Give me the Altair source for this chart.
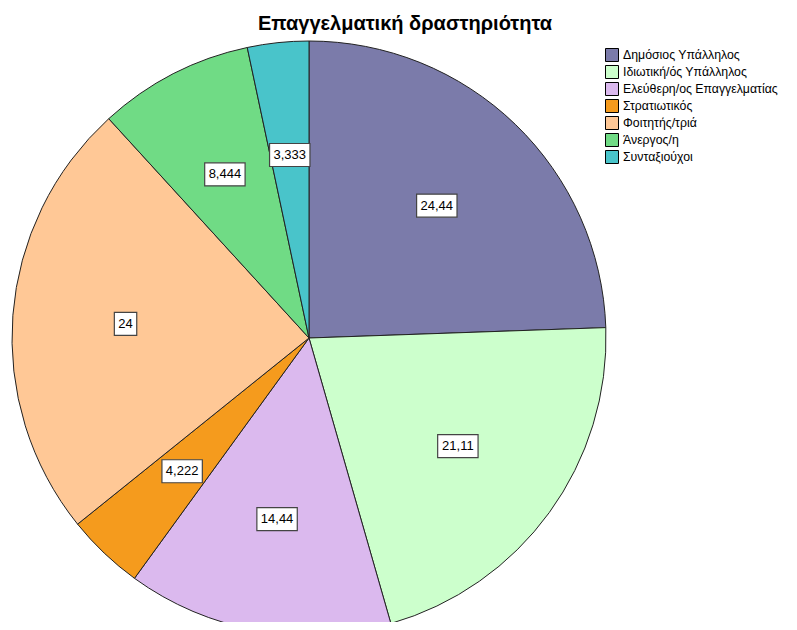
import altair as alt
import pandas as pd

title_text = "Επαγγελματική δραστηριότητα"
categories = [
    "Δημόσιος Υπάλληλος",
    "Ιδιωτική/ός Υπάλληλος",
    "Ελεύθερη/ος Επαγγελματίας",
    "Στρατιωτικός",
    "Φοιτητής/τριά",
    "Άνεργος/η",
    "Συνταξιούχοι",
]
values = [24.44, 21.11, 14.44, 4.222, 24.0, 8.444, 3.333]
labels = ["24,44", "21,11", "14,44", "4,222", "24", "8,444", "3,333"]
colors = ["#7B7BAA", "#CCFFCC", "#DBB9EE", "#F59B1D", "#FFC896", "#70DB85", "#49C4CA"]

df = pd.DataFrame({
    "cat": categories,
    "value": values,
    "label": labels,
    "idx": list(range(len(categories))),
})

CX, CY, R, RL = 301, 330, 297, 184

base = alt.Chart(df)

pie = base.mark_arc(radius=R, stroke="#222222", strokeWidth=1).encode(
    theta=alt.Theta("value:Q", stack=True),
    color=alt.Color(
        "cat:N",
        sort=categories,
        scale=alt.Scale(domain=categories, range=colors),
        legend=alt.Legend(
            title=None,
            orient="none",
            legendX=597,
            legendY=40,
            symbolType="square",
            symbolSize=169,
            symbolStrokeColor="black",
            symbolStrokeWidth=1,
            symbolOpacity=1,
            labelFont="Liberation Sans",
            labelFontSize=12.3,
            labelColor="black",
            labelOffset=4,
            labelLimit=300,
            rowPadding=-1,
        ),
    ),
    order=alt.Order("idx:Q"),
    x=alt.value(CX),
    y=alt.value(CY),
)

lab = base.transform_window(
    cum="sum(value)", sort=[alt.SortField("idx")], frame=[None, 0]
).transform_joinaggregate(
    total="sum(value)"
).transform_calculate(
    mid="(datum.cum - datum.value/2)/datum.total*2*PI"
).transform_calculate(
    px=f"{CX} + {RL}*sin(datum.mid)",
    py=f"{CY} - {RL}*cos(datum.mid)",
    hw="(length(replace(datum.label, ',', ''))*7.2 + (indexof(datum.label, ',') >= 0 ? 3.6 : 0) + 8)/2",
).transform_calculate(
    x1="datum.px - datum.hw",
    x2="datum.px + datum.hw",
    y1="datum.py - 11.5",
    y2="datum.py + 11.5",
)

boxes = lab.mark_rect(fill="white", stroke="#444444", strokeWidth=1.2).encode(
    x=alt.X("x1:Q", scale=None, axis=None),
    x2="x2:Q",
    y=alt.Y("y1:Q", scale=None, axis=None),
    y2="y2:Q",
)

texts = lab.mark_text(
    font="Liberation Sans", fontSize=13, color="black", baseline="middle", align="center"
).encode(
    x=alt.X("px:Q", scale=None, axis=None),
    y=alt.Y("py:Q", scale=None, axis=None),
    text="label:N",
)

title = alt.Chart(pd.DataFrame({"t": [title_text]})).mark_text(
    font="Liberation Sans", fontSize=20, fontWeight="bold", color="black",
    align="center", baseline="alphabetic",
).encode(
    text="t:N",
    x=alt.value(397),
    y=alt.value(22),
)

chart = alt.layer(pie, boxes, texts, title).properties(
    width=781,
    height=614,
    padding=0,
    autosize=alt.AutoSizeParams(type="none"),
).configure_view(strokeWidth=0)

chart.save("out.html", embed_options={"renderer": "svg", "actions": False})
